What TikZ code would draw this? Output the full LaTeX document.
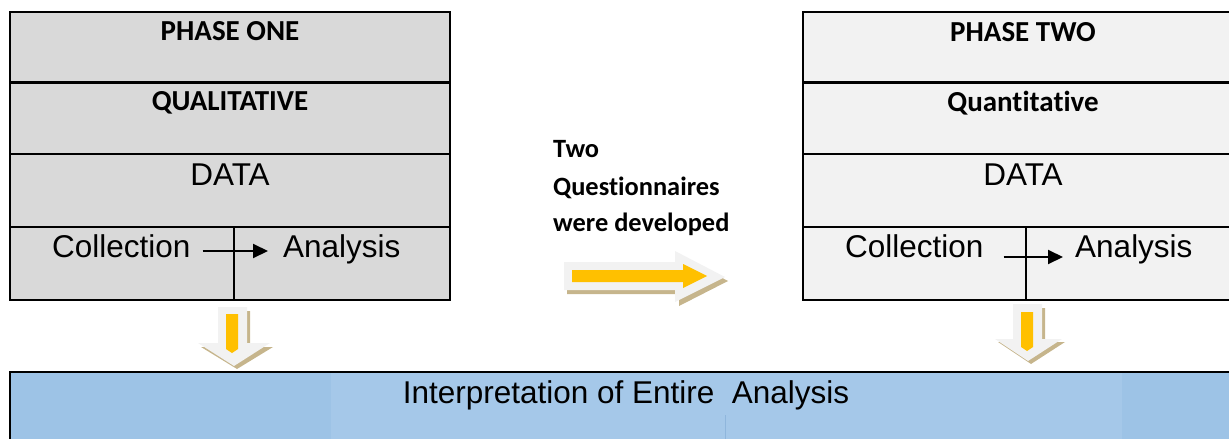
\documentclass[tikz,border=0pt]{standalone}
\usepackage{fontspec}
\setmainfont{Liberation Sans}
\newfontfamily\calib[Ligatures=NoCommon]{Carlito}
\usetikzlibrary{arrows.meta}
\definecolor{boxone}{HTML}{D9D9D9}
\definecolor{boxtwo}{HTML}{F2F2F2}
\definecolor{arrlight}{HTML}{F2F2F2}
\definecolor{arrshadow}{HTML}{C6B58C}
\definecolor{arryellow}{HTML}{FFC000}
\definecolor{blueout}{HTML}{9DC3E6}
\definecolor{bluein}{HTML}{A5C8E9}
\definecolor{blueline}{HTML}{8FB6DC}
\tikzset{
  rowline/.style={draw=black,line width=2.6pt},
  head/.style={font=\calib\bfseries\fontsize{29}{34}\selectfont,anchor=base,inner sep=0pt},
  arial/.style={font=\fontsize{31.5}{37}\selectfont,anchor=base,inner sep=0pt},
  midtext/.style={font=\calib\bfseries\fontsize{26.4}{37}\selectfont,anchor=base west,inner sep=0pt},
  flow/.style={draw=black,line width=2pt,-{Triangle[length=15pt,width=14pt]}},
}
\begin{document}
\begin{tikzpicture}[x=1pt,y=-1pt]
\useasboundingbox (0,0) rectangle (1229,439);
\clip (0,0) rectangle (1229,439);
% ---------- left box ----------
\filldraw[fill=boxone,rowline] (10,12) rectangle (450,300);
\draw[rowline] (10,82.5) -- (450,82.5);
\draw[rowline] (10,154) -- (450,154);
\draw[rowline] (10,227) -- (450,227);
\draw[rowline] (234,227) -- (234,300);
\node[head] (p1) at (230,40) {PHASE ONE};
\node[head] (q1) at (230,110) {QUALITATIVE};
\node[arial] (d1) at (230,185) {DATA};
\node[arial,anchor=base west] (c1) at (52,257) {Collection};
\node[arial,anchor=base west] (a1) at (283,257) {Analysis};
\draw[flow] ([xshift=12pt,yshift=6pt]c1.base east) -- ([xshift=-15pt,yshift=6pt]a1.base west);
% ---------- right box ----------
\filldraw[fill=boxtwo,rowline] (803,12) rectangle (1240,300);
\draw[rowline] (803,82.5) -- (1240,82.5);
\draw[rowline] (803,154) -- (1240,154);
\draw[rowline] (803,227) -- (1240,227);
\draw[rowline] (1026,227) -- (1026,300);
\node[head] (p2) at (1023,41) {PHASE TWO};
\node[head] (q2) at (1023,111) {Quantitative};
\node[arial] (d2) at (1023,185) {DATA};
\node[arial,anchor=base west] (c2) at (845,257) {Collection};
\node[arial,anchor=base west] (a2) at (1075,257) {Analysis};
\draw[flow] ([xshift=20pt,yshift=0pt]c2.base east) -- ([xshift=-12pt,yshift=0pt]a2.base west);
% ---------- middle text ----------
\node[midtext] (t1) at (553,157) {Two};
\node[midtext] (t2) at (553,195) {Questionnaires};
\node[midtext] (t3) at (553,231) {were developed};
% ---------- right block arrow ----------
\fill[arrshadow] (567,266) -- (679,266) -- (679,255) -- (728,281) -- (679,306) -- (679,294) -- (567,294) -- cycle;
\fill[arrlight] (564,262) -- (675,262) -- (675,251) -- (725,277) -- (675,302) -- (675,290) -- (564,290) -- cycle;
\fill[arryellow] (572,270) -- (683,270) -- (683,264) -- (707,276) -- (683,288) -- (683,282) -- (572,282) -- cycle;
% ---------- left down arrow ----------
\fill[arrshadow] (221,311) -- (250,311) -- (250,347) -- (273,347) -- (237,369) -- (201,347) -- (221,347) -- cycle;
\fill[arrlight] (218,307) -- (247,307) -- (247,343) -- (270,343) -- (234,366) -- (198,343) -- (218,343) -- cycle;
\fill[arryellow] (226,314) -- (238,314) -- (238,349) -- (232,353) -- (226,349) -- cycle;
% ---------- right down arrow ----------
\fill[arrshadow] (1016,308) -- (1045,308) -- (1045,342) -- (1065,342) -- (1031,364) -- (998,342) -- (1016,342) -- cycle;
\fill[arrlight] (1013,304) -- (1042,304) -- (1042,339) -- (1062,339) -- (1028,361) -- (995,339) -- (1013,339) -- cycle;
\fill[arryellow] (1021,312) -- (1033,312) -- (1033,347) -- (1027,351) -- (1021,347) -- cycle;
% ---------- bottom box ----------
\fill[blueout] (10,372) rectangle (1240,445);
\fill[bluein] (331,373) rectangle (1122,445);
\draw[blueline,line width=0.6pt] (725,415) -- (725,445);
\draw[rowline] (10,445) -- (10,372) -- (1240,372);
\node[arial] (ib) at (626,403) {Interpretation of Entire\ \ Analysis};
\end{tikzpicture}
\end{document}
